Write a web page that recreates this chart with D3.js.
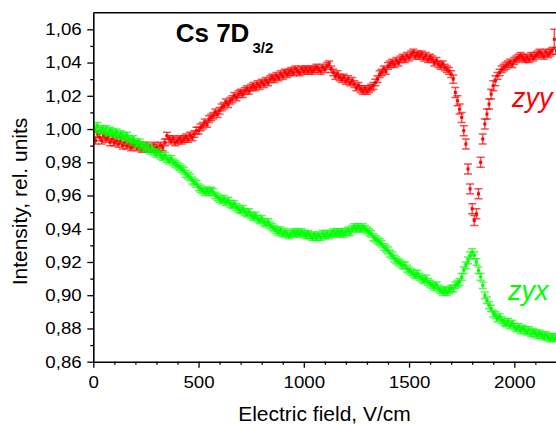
<!DOCTYPE html>
<html>
<head>
<meta charset="utf-8">
<script src="https://cdn.jsdelivr.net/npm/d3@7"></script>
<style>
html,body{margin:0;padding:0;background:#fff;}
svg{display:block;}
text{font-family:"Liberation Sans",Arial,Helvetica,sans-serif;}
</style>
</head>
<body>
<svg id="chart" width="556" height="424"></svg>
<script>
// ---------- data ----------
const fieldVcm = [
0,10,20,30,40,50,60,70,80,90,
100,110,120,130,140,150,160,170,180,190,
200,210,220,230,240,250,260,270,280,290,
300,310,320,330,340,350,360,370,380,390,
400,410,420,430,440,450,460,470,480,490,
500,510,520,530,540,550,560,570,580,590,
600,610,620,630,640,650,660,670,680,690,
700,710,720,730,740,750,760,770,780,790,
800,810,820,830,840,850,860,870,880,890,
900,910,920,930,940,950,960,970,980,990,
1000,1010,1020,1030,1040,1050,1060,1070,1080,1090,
1100,1110,1120,1130,1140,1150,1160,1170,1180,1190,
1200,1210,1220,1230,1240,1250,1260,1270,1280,1290,
1300,1310,1320,1330,1340,1350,1360,1370,1380,1390,
1400,1410,1420,1430,1440,1450,1460,1470,1480,1490,
1500,1510,1520,1530,1540,1550,1560,1570,1580,1590,
1600,1610,1620,1630,1640,1650,1660,1670,1680,1690,
1700,1710,1720,1730,1740,1750,1760,1770,1780,1790,
1800,1810,1820,1830,1840,1850,1860,1870,1880,1890,
1900,1910,1920,1930,1940,1950,1960,1970,1980,1990,
2000,2010,2020,2030,2040,2050,2060,2070,2080,2090,
2100,2110,2120,2130,2140,2150,2160,2170,2180,2190,
2200
];

const zyyIntensity = [
0.996,0.993,0.997,0.995,0.993,0.996,0.994,0.995,0.992,0.994,
0.992,0.993,0.991,0.993,0.990,0.992,0.990,0.991,0.989,0.990,
0.991,0.989,0.990,0.988,0.989,0.990,0.988,0.989,0.988,0.990,
0.989,0.988,0.990,0.989,0.992,0.996,0.994,0.993,0.994,0.992,
0.993,0.994,0.993,0.994,0.995,0.994,0.996,0.995,0.997,0.999,
0.999,1.001,1.002,1.004,1.003,1.006,1.007,1.008,1.010,1.009,
1.011,1.013,1.014,1.016,1.015,1.017,1.018,1.020,1.019,1.021,
1.022,1.021,1.023,1.024,1.023,1.025,1.026,1.025,1.027,1.026,
1.028,1.027,1.029,1.028,1.030,1.031,1.030,1.032,1.031,1.033,
1.032,1.034,1.033,1.034,1.035,1.034,1.036,1.035,1.034,1.036,
1.035,1.036,1.035,1.036,1.035,1.036,1.037,1.036,1.035,1.037,
1.036,1.038,1.039,1.036,1.034,1.032,1.033,1.031,1.030,1.031,
1.029,1.030,1.028,1.029,1.027,1.025,1.026,1.024,1.023,1.024,
1.023,1.024,1.025,1.026,1.028,1.030,1.033,1.034,1.036,1.035,
1.038,1.039,1.040,1.039,1.041,1.040,1.042,1.043,1.042,1.044,
1.043,1.045,1.046,1.044,1.045,1.044,1.045,1.043,1.044,1.042,
1.043,1.042,1.040,1.041,1.039,1.038,1.039,1.037,1.036,1.035,
1.033,1.030,1.022,1.017,1.012,1.007,0.999,0.991,0.976,0.964,
0.952,0.945,0.949,0.961,0.980,0.994,1.003,1.009,1.015,1.021,
1.026,1.029,1.032,1.034,1.036,1.037,1.038,1.039,1.040,1.039,
1.041,1.042,1.043,1.044,1.043,1.042,1.043,1.042,1.044,1.043,
1.044,1.045,1.046,1.045,1.044,1.046,1.045,1.046,1.047,1.054,
1.047
];

const zyyError = [
0.002,0.002,0.002,0.002,0.002,0.002,0.002,0.002,0.002,0.002,
0.002,0.002,0.002,0.002,0.002,0.002,0.002,0.002,0.002,0.002,
0.002,0.002,0.002,0.002,0.002,0.002,0.002,0.002,0.002,0.002,
0.002,0.002,0.002,0.002,0.002,0.002,0.002,0.002,0.002,0.002,
0.002,0.002,0.002,0.002,0.002,0.002,0.002,0.002,0.002,0.002,
0.002,0.002,0.002,0.002,0.002,0.002,0.002,0.002,0.002,0.002,
0.002,0.002,0.002,0.002,0.002,0.002,0.002,0.002,0.002,0.002,
0.002,0.002,0.002,0.002,0.002,0.002,0.002,0.002,0.002,0.002,
0.002,0.002,0.002,0.002,0.002,0.002,0.002,0.002,0.002,0.002,
0.002,0.002,0.002,0.002,0.002,0.002,0.002,0.002,0.002,0.002,
0.002,0.002,0.002,0.002,0.002,0.002,0.002,0.002,0.002,0.002,
0.002,0.002,0.002,0.002,0.002,0.002,0.002,0.002,0.002,0.002,
0.002,0.002,0.002,0.002,0.002,0.002,0.002,0.002,0.002,0.002,
0.002,0.002,0.002,0.002,0.002,0.002,0.002,0.002,0.002,0.002,
0.002,0.002,0.002,0.002,0.002,0.002,0.002,0.002,0.002,0.002,
0.002,0.002,0.002,0.002,0.002,0.002,0.002,0.002,0.002,0.002,
0.002,0.002,0.002,0.002,0.002,0.002,0.002,0.002,0.002,0.002,
0.002,0.0025,0.003,0.003,0.003,0.003,0.003,0.003,0.003,0.003,
0.003,0.003,0.003,0.003,0.003,0.003,0.003,0.003,0.003,0.003,
0.003,0.003,0.002,0.002,0.002,0.002,0.002,0.002,0.002,0.002,
0.002,0.002,0.002,0.002,0.002,0.002,0.002,0.002,0.002,0.002,
0.002,0.002,0.002,0.002,0.002,0.002,0.002,0.002,0.002,0.006,
0.002
];

const zyxIntensity = [
1.001,1.000,1.002,0.999,1.000,0.999,1.000,0.998,0.999,0.998,
0.997,0.998,0.996,0.997,0.996,0.995,0.996,0.994,0.993,0.994,
0.992,0.991,0.992,0.990,0.989,0.990,0.988,0.987,0.988,0.986,
0.985,0.986,0.984,0.983,0.984,0.982,0.981,0.982,0.980,0.979,
0.978,0.977,0.976,0.975,0.973,0.972,0.971,0.969,0.968,0.967,
0.965,0.964,0.963,0.962,0.963,0.962,0.963,0.962,0.960,0.959,
0.958,0.957,0.958,0.956,0.957,0.955,0.954,0.955,0.953,0.952,
0.951,0.952,0.950,0.949,0.950,0.948,0.947,0.948,0.946,0.945,
0.946,0.944,0.943,0.944,0.942,0.941,0.940,0.939,0.938,0.939,
0.937,0.938,0.937,0.936,0.937,0.938,0.937,0.938,0.937,0.938,
0.937,0.936,0.937,0.936,0.935,0.936,0.935,0.936,0.935,0.937,
0.936,0.937,0.936,0.937,0.938,0.937,0.938,0.937,0.938,0.937,
0.938,0.939,0.938,0.940,0.941,0.940,0.941,0.940,0.941,0.940,
0.939,0.938,0.937,0.935,0.934,0.933,0.932,0.931,0.929,0.928,
0.927,0.925,0.924,0.922,0.921,0.920,0.919,0.918,0.918,0.916,
0.915,0.914,0.913,0.912,0.913,0.911,0.910,0.909,0.910,0.908,
0.907,0.906,0.905,0.906,0.904,0.903,0.902,0.903,0.902,0.903,
0.904,0.904,0.906,0.907,0.908,0.911,0.915,0.918,0.921,0.924,
0.926,0.924,0.920,0.915,0.911,0.906,0.900,0.897,0.894,0.892,
0.889,0.888,0.886,0.887,0.885,0.884,0.883,0.884,0.882,0.883,
0.881,0.880,0.881,0.879,0.880,0.879,0.878,0.879,0.877,0.878,
0.877,0.876,0.877,0.876,0.875,0.876,0.875,0.874,0.875,0.874,
0.875
];
const zyxErrorBar = 0.002;

const xTickValues = [0, 500, 1000, 1500, 2000];
const xTickLabels = ["0", "500", "1000", "1500", "2000"];
const xMinorTicks = [100,200,300,400,600,700,800,900,1100,1200,1300,1400,1600,1700,1800,1900,2100];
const yTickValues = [0.86, 0.88, 0.90, 0.92, 0.94, 0.96, 0.98, 1.00, 1.02, 1.04, 1.06];
const yTickLabels = ["0,86","0,88","0,90","0,92","0,94","0,96","0,98","1,00","1,02","1,04","1,06"];
const yMinorTicks = [0.87,0.89,0.91,0.93,0.95,0.97,0.99,1.01,1.03,1.05];

// ---------- layout ----------
const W = 556, H = 424;
const L = 93.3, T = 12.7, B = 361.7, R = 556.4;
const RED = "#ff0000", GREEN = "#00ff00";

const svg = d3.select("#chart");
const x = d3.scaleLinear().domain([0, 2200]).range([L, R]);
const y = d3.scaleLinear().domain([0.86, 1.07]).range([B, T]);

svg.append("defs").append("clipPath").attr("id", "plotclip")
  .append("rect").attr("x", L).attr("y", T).attr("width", W - L + 10).attr("height", B - T);

const plot = svg.append("g").attr("clip-path", "url(#plotclip)");

function drawSeries(values, errFn, color) {
  const data = fieldVcm.map((f, i) => ({ f, v: values[i], e: errFn(i) }));
  const g = plot.append("g");
  const bars = g.append("g").attr("stroke", color).attr("stroke-opacity", 0.7).attr("stroke-width", 1.5);
  bars.selectAll("line.v").data(data).join("line").attr("class", "v")
    .attr("x1", d => x(d.f)).attr("x2", d => x(d.f))
    .attr("y1", d => y(d.v - d.e)).attr("y2", d => y(d.v + d.e));
  bars.selectAll("line.t").data(data).join("line").attr("class", "t")
    .attr("x1", d => x(d.f) - 4).attr("x2", d => x(d.f) + 4)
    .attr("y1", d => y(d.v + d.e)).attr("y2", d => y(d.v + d.e));
  bars.selectAll("line.b").data(data).join("line").attr("class", "b")
    .attr("x1", d => x(d.f) - 4).attr("x2", d => x(d.f) + 4)
    .attr("y1", d => y(d.v - d.e)).attr("y2", d => y(d.v - d.e));
  g.append("g").attr("fill", color).selectAll("rect").data(data).join("rect")
    .attr("x", d => x(d.f) - 1.5).attr("y", d => y(d.v) - 1.5)
    .attr("width", 3).attr("height", 3);
}

drawSeries(zyyIntensity, i => zyyError[i], RED);
drawSeries(zyxIntensity, i => zyxErrorBar, GREEN);

// ---------- axes ----------
const tickFont = 17, stretch = 1.1;

const xAxis = svg.append("g").attr("transform", `translate(0,${B})`)
  .call(d3.axisBottom(x).tickValues(xTickValues).tickSize(6).tickSizeOuter(0).tickPadding(8.5)
    .tickFormat((d, i) => xTickLabels[i]));
const xMinor = svg.append("g").attr("transform", `translate(0,${B})`)
  .call(d3.axisBottom(x).tickValues(xMinorTicks).tickSize(3).tickFormat(""));
xMinor.select(".domain").remove();

const yAxis = svg.append("g").attr("transform", `translate(${L},0)`)
  .call(d3.axisLeft(y).tickValues(yTickValues).tickSize(6).tickSizeOuter(0).tickPadding(5.6)
    .tickFormat((d, i) => yTickLabels[i]));
const yMinor = svg.append("g").attr("transform", `translate(${L},0)`)
  .call(d3.axisLeft(y).tickValues(yMinorTicks).tickSize(3).tickFormat(""));
yMinor.select(".domain").remove();

[xAxis, yAxis, xMinor, yMinor].forEach(a => {
  a.selectAll("line").attr("stroke", "#000").attr("stroke-width", 1.3);
  a.selectAll(".domain").attr("stroke", "#000").attr("stroke-width", 1.6);
  a.selectAll("text").attr("font-size", tickFont).attr("fill", "#000")
    .attr("font-family", '"Liberation Sans", Arial, sans-serif')
    .each(function () {
      const t = d3.select(this);
      const ox = +t.attr("x") || 0;
      t.attr("x", ox / stretch).attr("transform", `scale(${stretch},1)`);
    });
});

// top frame line
svg.append("line").attr("x1", L).attr("x2", W).attr("y1", T).attr("y2", T)
  .attr("stroke", "#000").attr("stroke-width", 1.6);

// ---------- titles ----------
svg.append("text").attr("x", 324.5).attr("y", 421).attr("text-anchor", "middle")
  .attr("font-size", 21).attr("fill", "#000").text("Electric field, V/cm");

svg.append("text").attr("transform", "translate(27,201.5) rotate(-90)")
  .attr("text-anchor", "middle").attr("font-size", 21).attr("fill", "#000")
  .text("Intensity, rel. units");

svg.append("text").attr("x", 175.7).attr("y", 41.7).attr("font-size", 26)
  .attr("font-weight", "bold").attr("fill", "#000").text("Cs 7D");
svg.append("text").attr("x", 252.5).attr("y", 52.7).attr("font-size", 15)
  .attr("font-weight", "bold").attr("fill", "#000").text("3/2");

svg.append("text").attr("x", 512).attr("y", 106.7).attr("font-size", 27)
  .attr("font-style", "italic").attr("fill", RED).text("zyy");
svg.append("text").attr("x", 508).attr("y", 300).attr("font-size", 27)
  .attr("font-style", "italic").attr("fill", GREEN).text("zyx");
</script>
</body>
</html>
